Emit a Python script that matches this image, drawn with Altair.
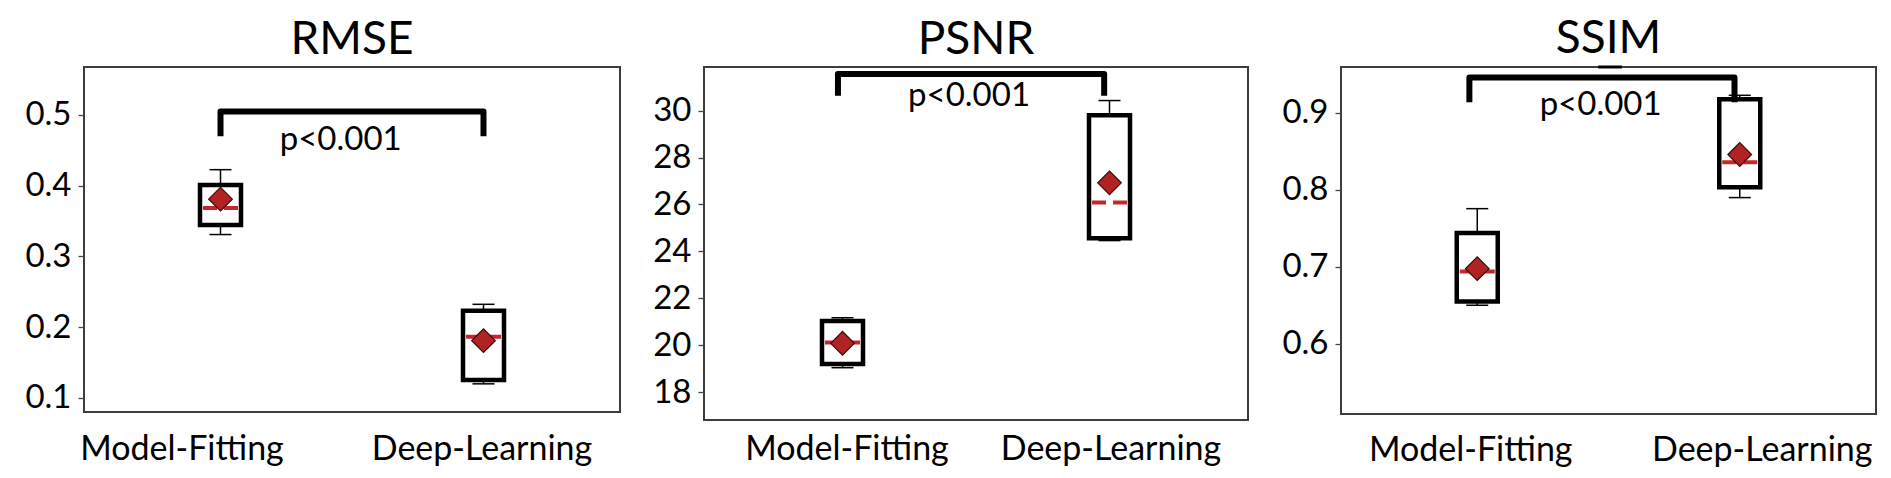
import altair as alt
import pandas as pd

# ---------------- data ----------------
groups = ["Model-Fitting", "Deep-Learning"]
positions = [1, 2]
metrics = ["RMSE", "PSNR", "SSIM"]
p_labels = ["p<0.001", "p<0.001", "p<0.001"]

# RMSE
rmse_wlo = [0.331, 0.120]
rmse_q1 = [0.3445, 0.1255]
rmse_med = [0.3686, 0.1867]
rmse_q3 = [0.401, 0.2234]
rmse_whi = [0.4227, 0.2324]
rmse_mean = [0.381, 0.181]

# PSNR
psnr_wlo = [19.04, 24.46]
psnr_q1 = [19.20, 24.56]
psnr_med = [20.11, 26.08]
psnr_q3 = [21.03, 29.80]
psnr_whi = [21.17, 30.43]
psnr_mean = [20.08, 26.92]

# SSIM
ssim_wlo = [0.650, 0.790]
ssim_q1 = [0.655, 0.8035]
ssim_med = [0.694, 0.836]
ssim_q3 = [0.744, 0.918]
ssim_whi = [0.7756, 0.923]
ssim_mean = [0.6976, 0.846]

# axes
y_domains = [[0.0802, 0.5678], [16.81, 31.86], [0.5086, 0.9598]]
y_ticks = [[0.1, 0.2, 0.3, 0.4, 0.5], [18, 20, 22, 24, 26, 28, 30], [0.6, 0.7, 0.8, 0.9]]
y_formats = [".1f", "d", ".1f"]

# significance brackets: x ends, top level, end level
bracket_x = [[1.0, 2.0], [0.983, 1.98], [0.97, 1.98]]
bracket_top = [0.505, 31.56, 0.946]
bracket_end = [0.470, 30.63, 0.914]
ptext_x = [1.457, 1.474, 1.470]
ptext_y = [0.451, 30.19, 0.897]

# small black mark on top edge of SSIM frame (present in the reference)
mark3_x = [1.461, 1.551]

stats = [
    (rmse_wlo, rmse_q1, rmse_med, rmse_q3, rmse_whi, rmse_mean),
    (psnr_wlo, psnr_q1, psnr_med, psnr_q3, psnr_whi, psnr_mean),
    (ssim_wlo, ssim_q1, ssim_med, ssim_q3, ssim_whi, ssim_mean),
]

# ---------------- layout / style ----------------
FONT = "Lato"
widths = [536, 544, 535]
heights = [345, 353, 347]
y_extent = [60, 52, 61]
x_label_pad = [20, 12, 19]
x_label_off = [(-39, -2), (4, 1), (-7, 22)]
RED = "#b22222"
MED_RED = "#c3282e"


def panel(i):
    wlo, q1, med, q3, whi, mean = stats[i]
    df = pd.DataFrame({"pos": positions, "group": groups, "wlo": wlo, "q1": q1,
                       "med": med, "q3": q3, "whi": whi, "mean": mean})
    label_expr = " : ".join(
        [f"datum.value == {p} ? '{g}'" for p, g in zip(positions[:-1], groups[:-1])]
        + [f"'{groups[-1]}'"])
    xs = alt.Scale(domain=[0.5, 2.5], nice=False, zero=False)
    ys = alt.Scale(domain=y_domains[i], nice=False, zero=False)
    xaxis = alt.Axis(values=positions, labelExpr=label_expr, ticks=False, domain=False,
                     grid=False, title=None, labelFont=FONT, labelFontSize=34,
                     labelColor="black", labelPadding=x_label_pad[i], labelLimit=600,
                     labelOffset={"condition": {"test": f"datum.value == {positions[0]}",
                                                "value": x_label_off[i][0]},
                                  "value": x_label_off[i][1]},
                     labelFlush=False, labelOverlap=False)
    yaxis = alt.Axis(values=y_ticks[i], format=y_formats[i], domain=False, grid=False,
                     title=None, labelFont=FONT, labelFontSize=33, labelColor="black",
                     tickColor="#444", tickSize=6, tickWidth=1.3, labelPadding=7,
                     minExtent=y_extent[i], maxExtent=y_extent[i])

    def X(f="pos"):
        return alt.X(f"{f}:Q", scale=xs, axis=xaxis)

    def Y(f):
        return alt.Y(f"{f}:Q", scale=ys, axis=yaxis)

    base = alt.Chart(df)
    wh_lo = base.mark_rule(color="black", strokeWidth=1.5).encode(
        x=X(), y=Y("wlo"), y2="q1:Q")
    wh_hi = base.mark_rule(color="black", strokeWidth=1.5).encode(
        x=X(), y=Y("q3"), y2="whi:Q")
    cap_lo = base.mark_tick(orient="horizontal", size=22, thickness=1.5,
                            color="black", opacity=1).encode(x=X(), y=Y("wlo"))
    cap_hi = base.mark_tick(orient="horizontal", size=22, thickness=1.5,
                            color="black", opacity=1).encode(x=X(), y=Y("whi"))
    box = base.mark_bar(size=41, fill="white", stroke="black", strokeWidth=4.5,
                        opacity=1).encode(x=X(), y=Y("q1"), y2="q3:Q")
    median = base.mark_rule(color=MED_RED, strokeWidth=4, strokeDash=[14, 7],
                            xOffset=-17.5, x2Offset=17.5).encode(
        x=X(), x2="pos:Q", y=Y("med"))
    mean_pt = base.mark_point(shape="diamond", size=560, filled=True, fill=RED,
                              stroke="#3a0a0a", strokeWidth=1.2, opacity=1).encode(
        x=X(), y=Y("mean"))

    bx = bracket_x[i]
    bdf = pd.DataFrame({"bx": [bx[0], bx[0], bx[1], bx[1]],
                        "by": [bracket_end[i], bracket_top[i], bracket_top[i], bracket_end[i]],
                        "o": [0, 1, 2, 3]})
    bracket = alt.Chart(bdf).mark_line(color="black", strokeWidth=6, strokeJoin="round",
                                       strokeCap="butt").encode(
        x=X("bx"), y=Y("by"), order=alt.Order("o:Q"))

    tdf = pd.DataFrame({"tx": [ptext_x[i]], "ty": [ptext_y[i]], "t": [p_labels[i]]})
    ptext = alt.Chart(tdf).mark_text(font=FONT, fontSize=33, color="black",
                                     align="center", baseline="alphabetic").encode(
        x=X("tx"), y=Y("ty"), text="t:N")

    layers = [wh_lo, wh_hi, box, cap_lo, cap_hi, median, mean_pt, bracket, ptext]
    if i == 2:
        mdf = pd.DataFrame({"mx": [mark3_x[0]], "mx2": [mark3_x[1]], "my": [y_domains[2][1]]})
        layers.append(alt.Chart(mdf).mark_rule(color="black", strokeWidth=3).encode(
            x=X("mx"), x2="mx2:Q", y=Y("my")))

    return alt.layer(*layers).properties(
        width=widths[i], height=heights[i],
        title=alt.TitleParams(metrics[i], font=FONT, fontSize=46, fontWeight="normal",
                              color="black", anchor="middle", offset=3))


chart = alt.hconcat(panel(0), panel(1), panel(2), spacing=30).properties(
    padding={"left": 15, "top": 6, "right": 5, "bottom": 5},
    background="white",
).configure_view(stroke="#3c3c3c", strokeWidth=2)

chart.save("out.html", embed_options={"renderer": "svg", "actions": False})
